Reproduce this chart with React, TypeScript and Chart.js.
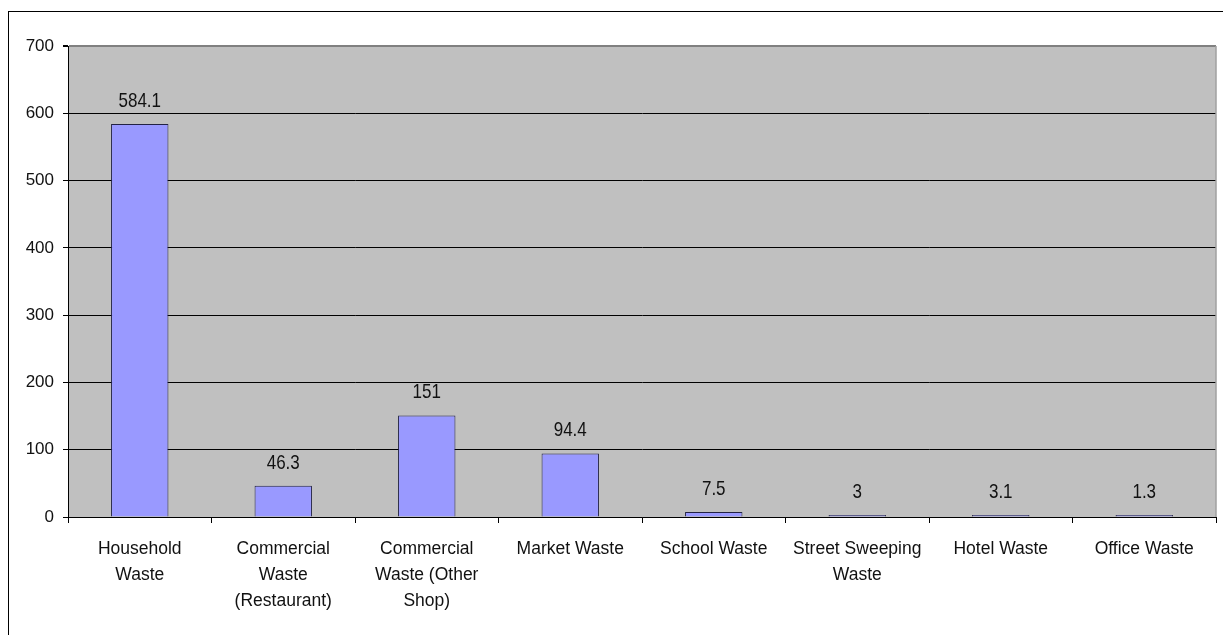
import React, { useEffect, useRef } from "react";
import { Chart, registerables } from "chart.js";

Chart.register(...registerables);

const categories: string[][] = [
  ["Household", "Waste"],
  ["Commercial", "Waste", "(Restaurant)"],
  ["Commercial", "Waste (Other", "Shop)"],
  ["Market Waste"],
  ["School Waste"],
  ["Street Sweeping", "Waste"],
  ["Hotel Waste"],
  ["Office Waste"],
];
const wasteValues: number[] = [584.1, 46.3, 151, 94.4, 7.5, 3, 3.1, 1.3];
const valueLabels: string[] = ["584.1", "46.3", "151", "94.4", "7.5", "3", "3.1", "1.3"];
const yMin = 0;
const yMax = 700;
const yStep = 100;

const FONT = "'Liberation Sans', Arial, sans-serif";

const plotBgPlugin = {
  id: "plotBg",
  beforeDraw(chart: any) {
    const { ctx, chartArea } = chart;
    ctx.save();
    ctx.fillStyle = "#C0C0C0";
    ctx.fillRect(chartArea.left, chartArea.top, chartArea.right - chartArea.left, chartArea.bottom - chartArea.top);
    ctx.restore();
  },
  afterDraw(chart: any) {
    const { ctx, chartArea } = chart;
    ctx.save();
    ctx.strokeStyle = "#A0A0A0";
    ctx.lineWidth = 1.5;
    ctx.beginPath();
    ctx.moveTo(chartArea.right, chartArea.top);
    ctx.lineTo(chartArea.right, chartArea.bottom);
    ctx.stroke();
    ctx.restore();
  },
};

const dataLabelPlugin = {
  id: "dataLabels",
  afterDatasetsDraw(chart: any) {
    const { ctx } = chart;
    const meta = chart.getDatasetMeta(0);
    const sx = 0.81;
    meta.data.forEach((bar: any, i: number) => {
      ctx.save();
      ctx.translate(bar.x, bar.y - 23);
      ctx.scale(sx, 1);
      ctx.fillStyle = "#111";
      ctx.font = `21px ${FONT}`;
      ctx.textAlign = "center";
      ctx.textBaseline = "middle";
      ctx.fillText(valueLabels[i], 0, 0);
      ctx.restore();
    });
  },
};

export default function App() {
  const ref = useRef<HTMLCanvasElement | null>(null);
  useEffect(() => {
    if (!ref.current) return;
    const chart = new Chart(ref.current, {
      type: "bar",
      data: {
        labels: categories,
        datasets: [
          {
            data: wasteValues,
            backgroundColor: "#9999FF",
            borderColor: "#222244",
            borderWidth: 1,
            barPercentage: 0.4,
            categoryPercentage: 1,
            minBarLength: 2,
          },
        ],
      },
      options: {
        responsive: false,
        animation: false,
        devicePixelRatio: 1,
        layout: { padding: { left: 0, top: 46, right: 7, bottom: 0 } },
        plugins: { legend: { display: false }, tooltip: { enabled: false } },
        scales: {
          x: {
            afterFit: (axis: any) => {
              axis.height = 118;
            },
            grid: {
              offset: true,
              drawOnChartArea: false,
              drawTicks: true,
              tickLength: 6,
              color: "#000",
            },
            border: { display: true, color: "#000", width: 1 },
            ticks: {
              color: "#111",
              padding: 13,
              maxRotation: 0,
              autoSkip: false,
              font: { family: FONT, size: 17.5, lineHeight: 26 / 17.5 },
            },
          },
          y: {
            min: yMin,
            max: yMax,
            afterFit: (axis: any) => {
              axis.width = 68;
            },
            grid: {
              color: (c: any) => (c.tick && c.tick.value === yMax ? "#808080" : "#000"),
              tickColor: "#000",
              tickLength: 5,
              lineWidth: (c: any) => (c.tick && c.tick.value === yMax ? 2 : 1),
            },
            border: { display: true, color: "#000", width: 1 },
            ticks: {
              stepSize: yStep,
              color: "#111",
              padding: 9,
              font: { family: FONT, size: 17 },
            },
          },
        },
      },
      plugins: [plotBgPlugin, dataLabelPlugin],
    });
    return () => chart.destroy();
  }, []);

  return (
    <div style={{ position: "fixed", left: 0, top: 0, width: 1223, height: 635, overflow: "hidden", background: "#fff" }}>
      <div
        style={{
          position: "absolute",
          left: 8,
          top: 11,
          width: 1400,
          height: 800,
          borderLeft: "1px solid #000",
          borderTop: "1px solid #000",
        }}
      />
      <canvas ref={ref} width={1223} height={635} style={{ position: "absolute", left: 0, top: 0, width: 1223, height: 635 }} />
    </div>
  );
}
